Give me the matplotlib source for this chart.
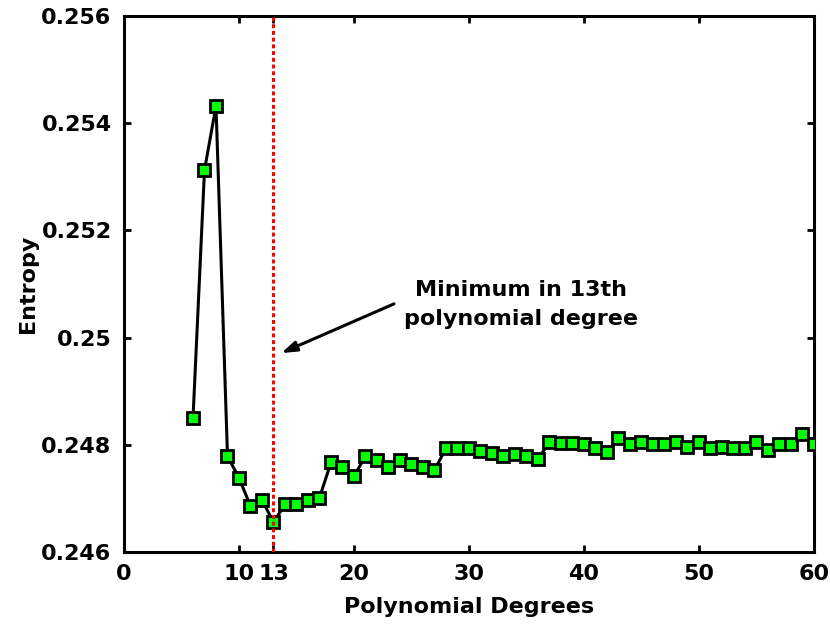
import matplotlib
matplotlib.use("Agg")
import matplotlib.pyplot as plt
import numpy as np

degrees = list(range(6, 61))
entropy = [0.248494, 0.253127, 0.254321, 0.247791, 0.247381, 0.246858, 0.246970,
           0.246554, 0.246889, 0.246889, 0.246970, 0.247013, 0.247672, 0.247591,
           0.247412, 0.247791, 0.247716, 0.247591, 0.247716, 0.247642, 0.247591,
           0.247530, 0.247933, 0.247933, 0.247933, 0.247890, 0.247853, 0.247791,
           0.247828, 0.247791, 0.247735, 0.248047, 0.248040, 0.248040, 0.248009,
           0.247933, 0.247860, 0.248121, 0.248009, 0.248047, 0.248009, 0.248009,
           0.248047, 0.247965, 0.248047, 0.247933, 0.247965, 0.247933, 0.247933,
           0.248047, 0.247903, 0.248009, 0.248009, 0.248196, 0.248009]
min_degree = 13
xticks = [0, 10, 13, 20, 30, 40, 50, 60]
yticks = [0.246, 0.248, 0.25, 0.252, 0.254, 0.256]
ytick_labels = ["0.246", "0.248", "0.25", "0.252", "0.254", "0.256"]

plt.rcParams['font.family'] = ['DejaVu Sans']
plt.rcParams['font.weight'] = 'bold'

fig = plt.figure(figsize=(8.3, 6.24), dpi=100)
ax = fig.add_axes([0.1494, 0.1154, 0.8313, 0.859])

ax.plot(degrees, entropy, '-s', color='black', linewidth=2.2,
        markersize=8.8, markerfacecolor='#00ff00', markeredgecolor='black',
        markeredgewidth=2.0, zorder=3)
ax.axvline(min_degree, color='red', linewidth=2.2, linestyle=(0, (1.3, 0.9)), zorder=4)

# arrow + note pointing at the minimum
ax.annotate('', xy=(13.45, 0.24969), xytext=(23.7, 0.25065),
            arrowprops=dict(arrowstyle='-|>,head_length=0.9,head_width=0.3',
                            color='black', lw=2.2))
ax.text(34.5, 0.25062, "Minimum in 13th\npolynomial degree", ha='center', va='center',
        multialignment='center', fontsize=16, fontweight='bold', linespacing=1.55)

ax.set_xlim(0, 60)
ax.set_ylim(0.246, 0.256)
ax.set_xticks(xticks)
ax.set_yticks(yticks)
ax.set_yticklabels(ytick_labels)
ax.tick_params(direction='in', length=5, width=2, top=True, right=True,
               labelsize=16, pad=9)
for s in ax.spines.values():
    s.set_linewidth(2.2)

ax.set_xlabel("Polynomial Degrees", fontsize=16, fontweight='bold', labelpad=9)
ax.set_ylabel("Entropy", fontsize=16, fontweight='bold')
ax.yaxis.set_label_coords(-0.125, 0.5)

fig.savefig("out.png", dpi=100)
